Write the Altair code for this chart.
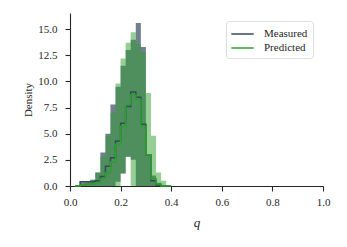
import altair as alt
import pandas as pd

# bin left edges (width 0.02); final entry is the closing right edge
q_edges = [0.02, 0.04, 0.06, 0.08, 0.10, 0.12, 0.14, 0.16, 0.18, 0.20,
           0.22, 0.24, 0.26, 0.28, 0.30, 0.32, 0.34, 0.36, 0.38, 0.40]

meas_hi = [0.0, 0.35, 0.4, 0.6, 1.3, 3.2, 5.0, 7.8, 9.5, 11.5,
           13.0, 14.0, 15.6, 13.3, 3.0, 1.0, 0.3, 0.0, 0.0, 0.0]
meas_lo = [0.0, 0.0, 0.0, 0.0, 0.0, 0.0, 0.0, 0.0, 0.4, 1.2,
           2.8, 2.5, 0.0, 0.0, 0.0, 0.0, 0.0, 0.0, 0.0, 0.0]
meas_med = [0.0, 0.4, 0.4, 0.4, 0.5, 0.9, 1.9, 2.7, 4.3, 6.0,
            7.6, 9.0, 8.5, 5.9, 3.0, 0.5, 0.1, 0.0, 0.0, 0.0]

pred_hi = [0.05, 0.1, 0.3, 0.6, 1.3, 2.8, 4.8, 7.0, 9.8, 12.2,
           13.7, 14.7, 13.6, 12.8, 8.9, 4.8, 1.3, 0.5, 0.0, 0.0]
pred_lo = [0.0, 0.0, 0.0, 0.0, 0.0, 0.0, 0.0, 0.0, 0.0, 1.2,
           2.8, 0.0, 0.0, 0.0, 0.0, 0.0, 0.0, 0.0, 0.0, 0.0]
pred_med = [0.0, 0.1, 0.2, 0.2, 0.3, 0.7, 1.3, 2.3, 4.0, 5.7,
            7.8, 8.7, 8.3, 5.7, 3.0, 0.7, 0.2, 0.0, 0.0, 0.0]

x_ticks = [0.0, 0.2, 0.4, 0.6, 0.8, 1.0]
y_ticks = [0.0, 2.5, 5.0, 7.5, 10.0, 12.5, 15.0]

series_names = ["Measured", "Predicted"]
series_colors = ["#34495e", "#2ca02c"]

rows = []
for name, lo, hi, med in [("Measured", meas_lo, meas_hi, meas_med),
                          ("Predicted", pred_lo, pred_hi, pred_med)]:
    for q, a, b, m in zip(q_edges, lo, hi, med):
        rows.append({"q": q, "lo": a, "hi": b, "med": m, "series": name})
df = pd.DataFrame(rows)

FONT = "Liberation Serif"
x_scale = alt.Scale(domain=[0, 1], nice=False)
y_scale = alt.Scale(domain=[0, 16.55], nice=False)
x_axis = alt.Axis(values=x_ticks, format=".1f", title="q", labelFlush=False,
                  titleFontStyle="italic", titleFontSize=13, titlePadding=9,
                  labelPadding=5)
y_axis = alt.Axis(values=y_ticks, format=".1f", title="Density", labelFlush=False,
                  titleFontSize=11, titlePadding=4, labelOverlap=False,
                  labelPadding=8)

X = alt.X("q:Q", scale=x_scale, axis=x_axis)

base = alt.Chart(df)

band_m = base.transform_filter(alt.datum.series == "Measured").mark_area(
    interpolate="step-after", color=series_colors[0], opacity=0.7
).encode(
    x=X,
    y=alt.Y("hi:Q", scale=y_scale, axis=y_axis),
    y2="lo:Q",
)
band_p = base.transform_filter(alt.datum.series == "Predicted").mark_area(
    interpolate="step-after", color=series_colors[1], opacity=0.5
).encode(
    x=X,
    y=alt.Y("hi:Q", scale=y_scale, axis=y_axis),
    y2="lo:Q",
)
lines = base.mark_line(interpolate="step-after", strokeWidth=1.5).encode(
    x=X,
    y=alt.Y("med:Q", scale=y_scale, axis=y_axis),
    stroke=alt.Stroke(
        "series:N",
        scale=alt.Scale(domain=series_names, range=series_colors),
        legend=alt.Legend(
            title=None, orient="none", legendX=156, legendY=8,
            symbolType="M-1.1,0H2.1", symbolSize=196, symbolStrokeWidth=1.5,
            labelFont=FONT, labelFontSize=11, labelColor="#262626",
            strokeColor="#dddddd", fillColor="white", cornerRadius=3,
            padding=5, rowPadding=1, labelOffset=17,
        ),
    ),
    detail="series:N",
)

chart = alt.layer(band_m, band_p, lines).properties(
    width=253, height=173,
    autosize=alt.AutoSizeParams(type="none"),
    padding={"left": 62, "top": 5, "right": 16, "bottom": 53},
).configure_view(stroke=None).configure_axis(
    grid=False, labelFont=FONT, titleFont=FONT, labelFontSize=11,
    labelColor="#262626", titleColor="#262626", domainColor="#262626",
    tickColor="#262626", tickSize=5, domainWidth=1.1, tickWidth=1.1,
    titleFontWeight="normal",
)

chart.save("out.html", embed_options={"renderer": "svg", "actions": False})
